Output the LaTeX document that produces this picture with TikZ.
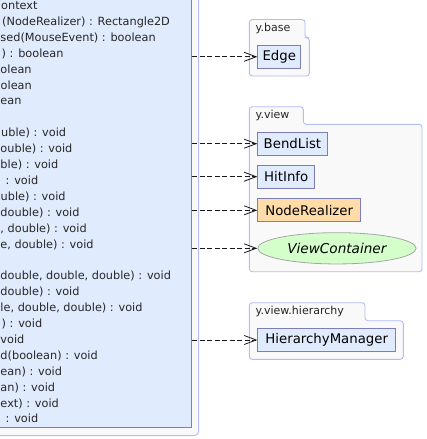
\documentclass[tikz,border=0pt]{standalone}
\usepackage{fontspec}
\setmainfont{DejaVu Sans}
\usetikzlibrary{shapes.geometric,arrows.meta,positioning}
\usepackage{xcolor}
\definecolor{clsfill}{HTML}{E1EBFE}
\definecolor{clsline}{HTML}{7E7EB6}
\definecolor{pkgline}{HTML}{B2BCF5}
\definecolor{pkgfill}{HTML}{F9F9F9}
\definecolor{realfill}{HTML}{FFDCA8}
\definecolor{contfill}{HTML}{D4FFCA}
\definecolor{contline}{HTML}{A6A6A6}

\begin{document}
\begin{tikzpicture}[x=1pt, y=-1pt,
    member/.style={anchor=base west, inner sep=0pt, font=\fontsize{11.3}{14}\selectfont, text=black!85},
    classbox/.style={draw=clsline, fill=clsfill, line width=0.9pt, inner sep=0pt},
    refbox/.style={draw=clsline, fill=clsfill, line width=0.9pt, inner sep=0pt, anchor=west, minimum height=23pt, font=\fontsize{13.3}{16}\selectfont},
    pkg/.style={draw=pkgline, fill=pkgfill, line width=0.9pt, rounded corners=3pt},
    pkglabel/.style={anchor=west, inner sep=0pt, font=\fontsize{11}{13}\selectfont, text=black!85},
    dep/.style={draw=black!90, line width=0.8pt, dash pattern=on 5pt off 2.5pt, -{Straight Barb[length=12pt,width=9pt]}}
]
    \useasboundingbox (0,0) rectangle (426,439);

    % package of the class, cut by the page edge
    \node[pkg, anchor=south east, minimum width=280pt, minimum height=480pt, rounded corners=4pt] (pkgleft) at (199,436) {};
    \node[classbox, anchor=south east, minimum width=260pt, minimum height=470pt] (cls) at (192,428) {};

    % members
    \foreach \k/\x/\t in {0/1/ontext, 1/2/{(NodeRealizer) : Rectangle2D}, 2/0.3/{sed(MouseEvent) : boolean},
        3/1.5/{) : boolean}, 4/0.3/olean, 5/0.5/olean, 6/0.3/ean,
        8/1/{uble) : void}, 9/0.3/{ouble) : void}, 10/0.3/{ble) : void}, 11/5.5/{: void},
        12/0.5/{uble) : void}, 13/0.3/{double) : void}, 14/0.3/{, double) : void}, 15/0.3/{e, double) : void},
        17/0.3/{double, double, double) : void}, 18/0.3/{double) : void}, 19/0.3/{le, double, double) : void},
        20/1.5/{) : void}, 21/0.3/void, 22/0.3/{d(boolean) : void}, 23/0.3/{ean) : void},
        24/0.3/{an) : void}, 25/0.3/{ext) : void}, 26/5.5/{: void}}
        \node[member] (m\k) at (\x, 9.5+15.9*\k) {\t};

    % y.base
    \draw[pkg] (249.3,76) -- (249.3,19.5) -- (305,19.5) -- (305,37.7) -- (309.3,37.7) -- (309.3,76) -- cycle;
    \node[pkglabel] (lbase) at (255.5,28.8) {y.base};
    \node[refbox, minimum width=43pt] (edge) at (257.3,56.8) {Edge};

    % y.view
    \draw[pkg] (249.3,271.7) -- (249.3,106.7) -- (303.3,106.7) -- (303.3,124.3) -- (422,124.3) -- (422,271.7) -- cycle;
    \node[pkglabel] (lview) at (255.5,115.8) {y.view};
    \node[refbox, minimum width=69.4pt] (bend) at (257.3,143.7) {BendList};
    \node[refbox, minimum width=57pt] (hit) at (257.3,176.7) {HitInfo};
    \node[refbox, minimum width=103pt, fill=realfill] (real) at (257.3,210.3) {NodeRealizer};
    \node[ellipse, draw=contline, fill=contfill, line width=0.8pt, inner sep=0pt, anchor=west,
        minimum width=158.4pt, minimum height=31.3pt, font=\fontsize{13.6}{16}\selectfont\itshape] (cont) at (257.3,248.3) {ViewContainer};

    % y.view.hierarchy
    \draw[pkg] (249.3,359.3) -- (249.3,302.7) -- (365,302.7) -- (365,320.7) -- (403.3,320.7) -- (403.3,359.3) -- cycle;
    \node[pkglabel] (lhier) at (255.5,311.8) {y.view.hierarchy};
    \node[refbox, minimum width=138pt] (hman) at (257.3,340) {HierarchyManager};

    % dependencies
    \foreach \n in {edge, bend, hit, real, cont, hman}
        \draw[dep] (cls.east |- \n.west) -- (\n.west);
\end{tikzpicture}
\end{document}
